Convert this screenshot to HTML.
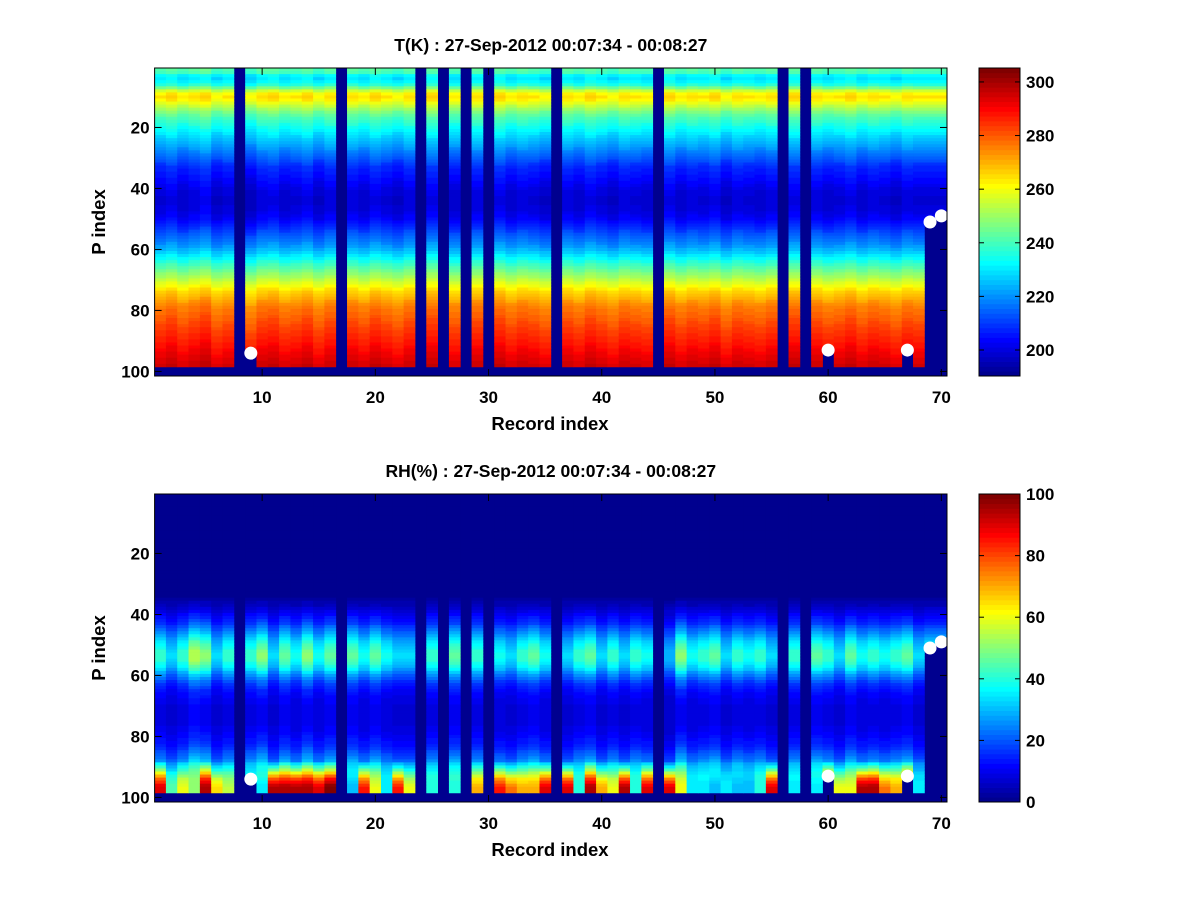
<!DOCTYPE html>
<html><head><meta charset="utf-8">
<style>
html,body{margin:0;padding:0;background:#fff;}
svg{display:block;font-family:"Liberation Sans",Arial,sans-serif;font-weight:bold;}
</style></head>
<body>
<svg id="fig" width="1200" height="900" viewBox="0 0 1200 900" xmlns="http://www.w3.org/2000/svg">
<rect x="0" y="0" width="1200" height="900" fill="#fff"/>
<g id="p1"></g>
<g id="p2"></g>
</svg>
<script>
// ---- data ----
const nCols = 70;
const missingCols = [8,17,24,26,28,30,36,45,56,58];
const lastRowCols = [9,60,67,69,70];
const lastRowVals = [93,92,92,50,48];
const dotCols = [9,60,67,69,70];
const dotRows = [94,93,93,51,49];
const tProfile = [242,240,232,230,232,236,245,255,262,264,262,258,254,250,246,243,
240,238,236,234,232,230,228,226,224,222,220,218,216,214,212,210,208,207,206,205,204,203,
202,201,200,200,199,199,199,200,200,201,202,203,205,207,209,211,213,215,217,219,
221,224,227,230,233,236,239,242,245,248,251,254,257,260,263,266,268,270,272,274,276,277,
278,279,280,281,282,283,284,285,286,287,288,289,290,291,292,293,294,295];
const tColOffset = [0,2,-1,1,3,-2,0,0,-3,1,2,-1,0,2,-2,1,0,1,-1,2,0,-2,1,0,2,0,-1,0,1,0,
2,-1,1,0,-2,0,1,-1,2,0,-2,1,0,-1,0,2,-1,1,0,2,-2,1,0,-1,1,0,2,0,1,-1,0,2,-1,1,0,-2,1,0,0,0];
const rhProfile = [0,0,0,0,0,0,0,0,0,0,0,0,0,0,0,0,0,0,0,0,0,0,0,0,0,0,0,0,0,0,0,0,0,0,
2,4,5,7,9,11,13,15,17,20,23,26,29,32,35,37,39,41,42,42,41,39,36,33,29,25,22,19,17,15,13,12,
11,10,10,9,9,9,9,9,9,9,10,10,11,12,13,14,15,17,19,21,23,26,
30,32,34,36,38,40,40,40,40,40];
const rhBlend = [0.1,0.2,0.3,0.45,0.6,0.75,0.85,0.95,1,1];
const rhMidScale = [1.0,0.8,1.0,1.3,1.2,0.8,1.0,1,1.0,1.2,0.8,1.1,0.9,1.2,0.9,1.1,1,1.1,0.9,1.1,0.9,0.8,0.8,1,1.0,1,1.1,1,1.0,1,
0.9,0.8,1.0,1.1,0.9,1,0.8,1.0,1.1,0.8,1.0,0.8,1.0,0.9,1,0.7,1.2,0.9,1.0,1.1,0.8,1.0,0.9,1.0,0.8,1,1.0,1,1.1,1.0,
0.8,1.1,0.9,1.0,0.9,1.0,1.1,0.8,0.9,0.9];
const rhBottom = [90,45,60,50,95,65,55,0,35,35,95,95,95,95,90,100,0,30,85,60,35,85,60,0,40,0,40,0,70,0,
85,75,70,70,90,0,90,40,95,70,60,95,40,90,0,90,60,35,35,30,35,30,30,40,90,0,35,0,35,90,
60,60,95,95,75,70,95,35,0,0];
const xTicks = [10,20,30,40,50,60,70];
const yTicks = [20,40,60,80,100];
const tCbTicks = [200,220,240,260,280,300];
const rhCbTicks = [0,20,40,60,80,100];

// ---- helpers ----
const NS = "http://www.w3.org/2000/svg";
function jet(v, lo, hi){
  let t = (v - lo) / (hi - lo); t = Math.max(0, Math.min(0.9999, t));
  const k = Math.floor(t * 64); const tt = (k + 1) / 64;
  const c = x => Math.round(255 * Math.max(0, Math.min(1, 1.5 - Math.abs(x))));
  return `rgb(${c(4*tt-3)},${c(4*tt-2)},${c(4*tt-1)})`;
}
function mk(parent, tag, attrs, text){
  const e = document.createElementNS(NS, tag);
  for (const k in attrs) e.setAttribute(k, attrs[k]);
  if (text !== undefined) e.textContent = text;
  parent.appendChild(e); return e;
}
function lastRow(c){ const i = lastRowCols.indexOf(c); return i >= 0 ? lastRowVals[i] : 98; }

function drawPanel(g, top, lo, hi, valueFn, title, cbTicks, prefix){
  const L = 154.6, R = 947, B = top + 308;
  const xs = c => L + (c - 0.5) * (R - L) / 70;
  const ys = r => top + (r - 0.5) * 308 / 101;
  const cw = (R - L) / 70, rh = 308 / 101;
  const nanColor = jet(lo, lo, hi);
  const bg = mk(g, 'rect', {x:L, y:top, width:R-L, height:308, fill:nanColor});
  
  
  const cells = mk(g, 'g', {});
  
  
  for (let c = 1; c <= nCols; c++){
    if (missingCols.includes(c)) continue;
    const lr = lastRow(c);
    for (let r = 1; r <= lr; r++){
      const v = valueFn(c, r);
      const e = mk(cells, 'rect', {x:(xs(c)-cw/2).toFixed(2), y:(ys(r)-rh/2).toFixed(2), width:(cw+0.4).toFixed(2), height:(rh+0.4).toFixed(2), fill:jet(v, lo, hi)});
      
      
    }
  }
  for (let i = 0; i < dotCols.length; i++){
    const d = mk(g, 'circle', {cx:xs(dotCols[i]), cy:ys(dotRows[i]), r:6.5, fill:'#fff'});
    
    
  }
  const fr = mk(g, 'rect', {x:L, y:top, width:R-L, height:308, fill:'none', stroke:'#000', 'stroke-width':1});
  
  
  xTicks.forEach(v => {
    const x = xs(v);
    mk(g, 'line', {x1:x, y1:B, x2:x, y2:B-7, stroke:'#000'});
    mk(g, 'line', {x1:x, y1:top, x2:x, y2:top+7, stroke:'#000'});
    const t = mk(g, 'text', {x:x, y:B+27, 'font-size':17, 'text-anchor':'middle'}, String(v));
    
    
  });
  yTicks.forEach(v => {
    const y = ys(v);
    mk(g, 'line', {x1:L, y1:y, x2:L+7, y2:y, stroke:'#000'});
    mk(g, 'line', {x1:R, y1:y, x2:R-7, y2:y, stroke:'#000'});
    const t = mk(g, 'text', {x:L-5, y:y+6, 'font-size':17, 'text-anchor':'end'}, String(v));
    
    
  });
  const tt = mk(g, 'text', {x:(L+R)/2, y:top-17, 'font-size':17.5, 'text-anchor':'middle'}, title);
  
  
  const xl = mk(g, 'text', {x:550, y:B+54, 'font-size':18.5, 'text-anchor':'middle'}, 'Record index');
  
  
  const yl = mk(g, 'text', {x:0, y:0, 'font-size':18.5, 'text-anchor':'middle', transform:`translate(105,${top+154}) rotate(-90)`}, 'P index');
  
  
  // colorbar
  const cbL = 979, cbR = 1020;
  const cb = mk(g, 'g', {});
  
  
  for (let k = 0; k < 64; k++){
    const y0 = B - (k + 1) * 308 / 64;
    mk(cb, 'rect', {x:cbL, y:y0.toFixed(2), width:cbR-cbL, height:(308/64+0.4).toFixed(2), fill:jet(lo + (k + 0.5) * (hi - lo) / 64, lo, hi)});
  }
  mk(cb, 'rect', {x:cbL, y:top, width:cbR-cbL, height:308, fill:'none', stroke:'#000'});
  cbTicks.forEach(v => {
    const y = B - (v - lo) / (hi - lo) * 308;
    mk(cb, 'line', {x1:cbL, y1:y, x2:cbL+5, y2:y, stroke:'#000'});
    mk(cb, 'line', {x1:cbR, y1:y, x2:cbR-5, y2:y, stroke:'#000'});
    const t = mk(cb, 'text', {x:cbR+6, y:y+6, 'font-size':17}, String(v));
    
    
  });
}

drawPanel(document.getElementById('p1'), 68, 190.3, 305.2,
  (c, r) => tProfile[r-1] + tColOffset[c-1],
  'T(K) : 27-Sep-2012 00:07:34 - 00:08:27', tCbTicks, 'temperature');
drawPanel(document.getElementById('p2'), 494, 0, 100,
  (c, r) => {
    const base = rhProfile[r-1] * rhMidScale[c-1];
    if (r >= 89){ const w = rhBlend[r-89]; return base + (rhBottom[c-1] - base) * w; }
    return base;
  },
  'RH(%) : 27-Sep-2012 00:07:34 - 00:08:27', rhCbTicks, 'humidity');
</script>
</body></html>
